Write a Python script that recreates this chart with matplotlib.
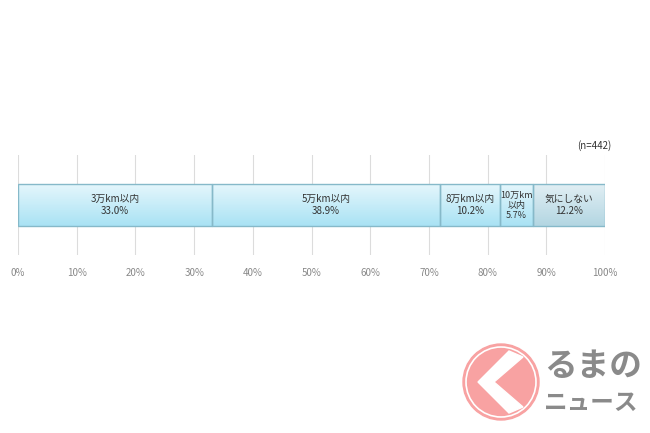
import numpy as np
import matplotlib.pyplot as plt
from matplotlib.colors import LinearSegmentedColormap
from matplotlib.patches import Circle, Polygon

plt.rcParams['font.family'] = ['Noto Sans CJK JP', 'DejaVu Sans']

labels = ['3万km以内', '5万km以内', '8万km以内', '10万km\n以内', '気にしない']
values = [33.0, 38.9, 10.2, 5.7, 12.2]
ticks = [0, 10, 20, 30, 40, 50, 60, 70, 80, 90, 100]
n_text = '(n=442)'

fig = plt.figure(figsize=(6.5, 4.33), dpi=100)
ax = fig.add_axes([0.0277, 0.411, 0.9031, 0.231])

cm_blue = LinearSegmentedColormap.from_list('b', ['#a9e2f4', '#e6f7fc'])
cm_gray = LinearSegmentedColormap.from_list('g', ['#b3d6e2', '#e2eff4'])
grad = np.linspace(0, 1, 64).reshape(-1, 1)

left = 0
for i, (lab, v) in enumerate(zip(labels, values)):
    bar = ax.barh(0.5, v, left=left, height=0.42, color='none',
                  edgecolor='#86b9c9', linewidth=1.0, zorder=3)[0]
    cmap = cm_gray if i == len(values) - 1 else cm_blue
    im = ax.imshow(grad, cmap=cmap, aspect='auto', origin='lower',
                   extent=[left, left + v, 0.29, 0.71], zorder=2)
    im.set_clip_path(bar)
    if '\n' in lab:
        ax.text(left + v / 2, 0.5, lab + '\n%.1f%%' % v, ha='center', va='center',
                fontsize=6.5, color='#333333', linespacing=1.15, zorder=4)
    else:
        ax.text(left + v / 2, 0.5, lab + '\n%.1f%%' % v, ha='center', va='center',
                fontsize=7, color='#333333', linespacing=1.3, zorder=4)
    left += v

ax.set_xlim(0, 100)
ax.set_ylim(0, 1)
for t in ticks:
    ax.axvline(t, color='#dcdcdc', linewidth=0.8, zorder=1)
ax.set_xticks(ticks)
ax.set_xticklabels(['%d%%' % t for t in ticks], fontsize=7, color='#888888')
ax.tick_params(axis='x', length=0, pad=9)
ax.set_yticks([])
for s in ax.spines.values():
    s.set_visible(False)

fig.text(0.915, 0.665, n_text, fontsize=7, color='#333333', ha='center', va='center')

# watermark logo (pixel coordinates of the lower right corner)
lax = fig.add_axes([440 / 650, 0, 210 / 650, 113 / 433])
lax.set_xlim(440, 650)
lax.set_ylim(433, 320)
lax.axis('off')
pink = '#f8a2a2'
lax.add_patch(Circle((501, 382), 38, color=pink, zorder=1))
lax.add_patch(Circle((501, 382), 35, facecolor=pink, edgecolor='white', lw=1.2, zorder=2))
lax.add_patch(Polygon([[509, 351], [478, 382], [509, 413], [523, 407], [494, 382], [523, 357]],
                      color='white', zorder=3))
lax.text(544, 367, 'るまの', fontsize=23.5, color='#8a8a8a', fontweight='bold', va='center', ha='left')
lax.text(544, 403, 'ニュース', fontsize=17, color='#8a8a8a', fontweight='bold', va='center', ha='left')

fig.savefig('out.png', dpi=100, facecolor='white')
